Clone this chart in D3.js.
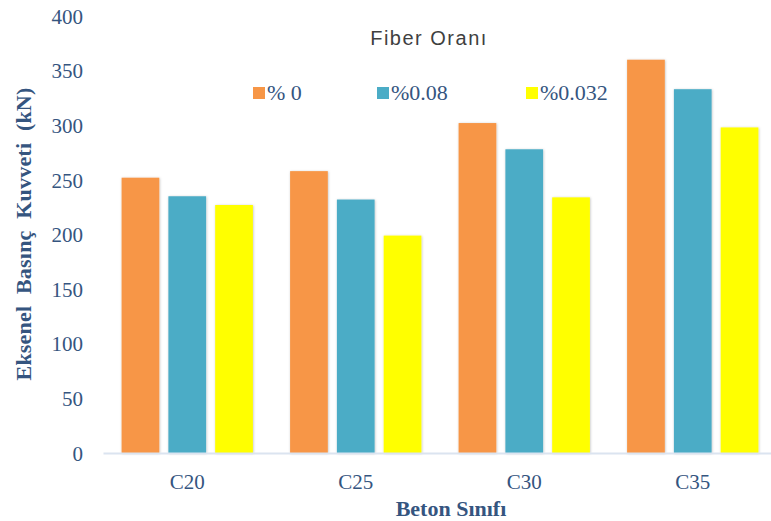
<!DOCTYPE html>
<html>
<head>
<meta charset="utf-8">
<script src="https://cdn.jsdelivr.net/npm/d3@7"></script>
<style>
  html, body { margin: 0; padding: 0; background: #ffffff; }
  svg { display: block; }
</style>
</head>
<body>
<svg id="chart" width="771" height="521"></svg>
<script>
const categories = ["C20", "C25", "C30", "C35"];
const seriesNames = ["% 0", "%0.08", "%0.032"];
const seriesColors = ["#F79646", "#4BACC6", "#FFFF00"];
const values0 = [252, 258, 302, 360];
const values008 = [235, 232, 278, 333];
const values0032 = [227, 199, 234, 298];
const yTicks = [0, 50, 100, 150, 200, 250, 300, 350, 400];
const legendTitle = "Fiber Oranı";
const yTitle = "Eksenel Basınç Kuvveti (kN)";
const xTitle = "Beton Sınıfı";

const allValues = [values0, values008, values0032];
const data = categories.map((c, i) => ({
  cat: c,
  vals: seriesNames.map((s, j) => ({ series: s, idx: j, value: allValues[j][i] }))
}));

const svg = d3.select("#chart");
const textColor = "#35557f";
const serif = "'Liberation Serif', 'Times New Roman', serif";

const y = d3.scaleLinear().domain([0, 400]).range([453, 16]);
const x0 = d3.scaleBand().domain(categories).range([103, 777]).padding(0);
const x1 = d3.scaleBand().domain(seriesNames)
  .range([18.6, 18.6 + 131.3]).paddingInner(0.194).paddingOuter(0);

const defs = svg.append("defs");
const f = defs.append("filter").attr("id", "shadow")
  .attr("x", "-20%").attr("y", "-5%").attr("width", "140%").attr("height", "110%");
f.append("feDropShadow").attr("dx", 0.5).attr("dy", 0.5)
  .attr("stdDeviation", 1.2).attr("flood-color", "#000").attr("flood-opacity", 0.25);

// Y axis labels
const yAxis = d3.axisLeft(y).tickValues(yTicks).tickSize(0).tickPadding(0);
const yg = svg.append("g").attr("transform", "translate(83,0)").call(yAxis);
yg.select(".domain").remove();
yg.selectAll("text")
  .attr("font-family", serif).attr("font-size", 21)
  .attr("fill", textColor).attr("dy", "0.34em");

// Bars
const groups = svg.append("g").selectAll("g").data(data).join("g")
  .attr("transform", d => `translate(${x0(d.cat)},0)`);
groups.selectAll("rect").data(d => d.vals).join("rect")
  .attr("x", d => x1(d.series))
  .attr("width", x1.bandwidth())
  .attr("y", d => y(d.value))
  .attr("height", d => y(0) - y(d.value))
  .attr("fill", d => seriesColors[d.idx])
  .attr("filter", "url(#shadow)");

// X axis
const xAxis = d3.axisBottom(x0).tickSize(0).tickPadding(0);
const xg = svg.append("g").attr("transform", "translate(0,453)").call(xAxis);
xg.select(".domain").attr("stroke", "#dbe4f0").attr("stroke-width", 2);
xg.selectAll("text")
  .attr("font-family", serif).attr("font-size", 21)
  .attr("fill", textColor).attr("y", 36).attr("dy", 0);

// Axis titles
svg.append("text")
  .attr("transform", "translate(31,234) rotate(-90)")
  .attr("text-anchor", "middle")
  .attr("font-family", serif).attr("font-weight", "bold").attr("font-size", 22)
  .attr("word-spacing", 6).attr("letter-spacing", 0.2)
  .attr("fill", textColor).text(yTitle);

svg.append("text")
  .attr("x", 451).attr("y", 516)
  .attr("text-anchor", "middle")
  .attr("font-family", serif).attr("font-weight", "bold").attr("font-size", 22)
  .attr("fill", textColor).text(xTitle);

// Legend
svg.append("text")
  .attr("x", 429).attr("y", 45)
  .attr("text-anchor", "middle")
  .attr("font-family", "'Liberation Sans', Arial, sans-serif").attr("font-size", 20)
  .attr("letter-spacing", 1.5)
  .attr("fill", "#3f3f3f").text(legendTitle);

const legendX = [253, 377, 526];
const lg = svg.append("g").selectAll("g").data(seriesNames).join("g")
  .attr("transform", (d, i) => `translate(${legendX[i]},87)`);
lg.append("rect").attr("width", 12).attr("height", 12)
  .attr("fill", (d, i) => seriesColors[i]);
lg.append("text").attr("x", 14).attr("y", 13)
  .attr("font-family", serif).attr("font-size", 22)
  .attr("fill", textColor).text(d => d);
</script>
</body>
</html>
